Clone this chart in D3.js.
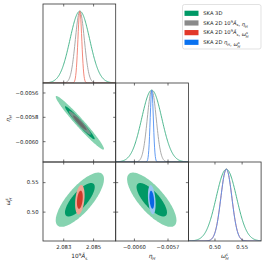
<!DOCTYPE html>
<html>
<head>
<meta charset="utf-8">
<script src="https://cdn.jsdelivr.net/npm/d3@7"></script>
<style>
  body { margin: 0; background: #fff; }
  svg { display: block; font-family: "DejaVu Sans", sans-serif; }
</style>
</head>
<body>
<svg width="266" height="265"></svg>
<script>
// parameters: 10^9 A_s, eta_H, omega_H^s
var paramDomains = [[2.081613, 2.08648], [-0.006167, -0.005518], [0.451, 0.585]];
var paramMeans = [2.08408, -0.005845, 0.521];
var xTicks = [[2.083, 2.085], [-0.0060, -0.0057], [0.50, 0.55]];
var xTickFmt = [".3f", ".4f", ".2f"];
var yTicks = [null, [-0.0056, -0.0058, -0.0060], [0.50, 0.55]];

// series (from Fisher forecasts): which params, sigmas, correlations
var seriesNames = ["SKA 3D", "SKA 2D A eta", "SKA 2D A omega", "SKA 2D eta omega"];
var seriesParams = [[0, 1, 2], [0, 1], [0, 2], [1, 2]];
var seriesSigmas = [[0.00066, 0.00009, 0.0188], [0.0003, 0.00004], [0.00013, 0.0102], [0.000014, 0.0101]];
// correlation for pairs (0,1),(0,2),(1,2) of each series' params
var corr3D = { "0,1": -0.973, "0,2": 0.76, "1,2": -0.76 };
var corr2D = [-0.95, 0.3, -0.3];

var fillOuter = ["#86d3b0", "rgba(150,150,150,0.75)", "#f0a596", "#9ac6f2"];
var fillInner = ["#009966", "rgba(100,100,100,0.85)", "#cf3a2a", "#0a66e6"];
var lineCol = ["#3aaf82", "#a0a0a0", "#f27b6c", "#4f8ef0"];
var legendCol = ["#009966", "#8a8a8a", "#e2382a", "#0a72f0"];

var svg = d3.select("svg");
var L = 43, T = 4, cw = 72.7, ch = 79;

var xs = paramDomains.map(function(d, i) {
  return d3.scaleLinear().domain(d).range([L + i * cw, L + (i + 1) * cw]);
});
var ys = paramDomains.map(function(d, j) {
  return d3.scaleLinear().domain(d).range([T + (j + 1) * ch, T + j * ch]);
});

function sig(s, p) { return seriesSigmas[s][seriesParams[s].indexOf(p)]; }
function rho(s, a, b) {
  if (s === 0) return corr3D[a + "," + b];
  return corr2D[s - 1];
}
function hasPair(s, a, b) { return seriesParams[s].indexOf(a) >= 0 && seriesParams[s].indexOf(b) >= 0; }

function mathText(sel, parts, size) {
  parts.forEach(function(p) {
    var t = sel.append("tspan").text(p[0]);
    if (p[1] === "it") t.attr("font-style", "italic");
    if (p[1] === "sup") t.attr("font-size", size * 0.7).attr("dy", -size * 0.4);
    if (p[1] === "sub") t.attr("font-size", size * 0.7).attr("dy", size * 0.3);
    if (p[1] === "back") t.attr("font-style", "normal").attr("dy", size * 0.1);
    if (p[1] === "stack") t.attr("font-size", size * 0.7).attr("dx", -size * 0.4).attr("dy", size * 0.75);
    if (p[2]) t.attr("font-style", "italic");
  });
}
var lblA = [["10"], ["9", "sup"], ["\u00c3", "it-down"], ["s", "sub"]];
function addA(sel, size) {
  sel.append("tspan").text("10");
  sel.append("tspan").text("9").attr("font-size", size * 0.7).attr("dy", -size * 0.4);
  sel.append("tspan").text("\u00c3").attr("font-style", "italic").attr("dy", size * 0.4);
  sel.append("tspan").text("s").attr("font-size", size * 0.7).attr("dy", size * 0.3);
  sel.append("tspan").text("").attr("dy", -size * 0.3);
}
function addEta(sel, size) {
  sel.append("tspan").text("\u03b7").attr("font-style", "italic");
  sel.append("tspan").text("H").attr("font-style", "italic").attr("font-size", size * 0.7).attr("dy", size * 0.3);
  sel.append("tspan").text("").attr("dy", -size * 0.3);
}
function addOmega(sel, size) {
  sel.append("tspan").text("\u03c9").attr("font-style", "italic");
  sel.append("tspan").text("s").attr("font-style", "italic").attr("font-size", size * 0.7).attr("dy", -size * 0.4);
  sel.append("tspan").text("H").attr("font-style", "italic").attr("font-size", size * 0.7).attr("dx", -size * 0.42).attr("dy", size * 0.75);
  sel.append("tspan").text("").attr("dy", -size * 0.35);
}
var adders = [addA, addEta, addOmega];

var defs = svg.append("defs");
var line = d3.line().curve(d3.curveLinearClosed);
var rOuter = Math.sqrt(-2 * Math.log(0.05)), rInner = Math.sqrt(-2 * Math.log(0.32));

function ellipse(s, a, b, r) {
  var sa = sig(s, a), sb = sig(s, b), p = rho(s, a, b);
  var pts = d3.range(0, 2 * Math.PI, Math.PI / 60).map(function(t) {
    var vx = paramMeans[a] + r * sa * Math.cos(t);
    var vy = paramMeans[b] + r * sb * (p * Math.cos(t) + Math.sqrt(1 - p * p) * Math.sin(t));
    return [xs[a](vx), ys[b](vy)];
  });
  return line(pts);
}

function ticksIn(g, i, j, is1D) {
  var x0 = L + i * cw, x1 = x0 + cw, y0 = T + j * ch, y1 = y0 + ch, tl = 2.5;
  xTicks[i].forEach(function(v) {
    var x = xs[i](v);
    g.append("line").attr("x1", x).attr("x2", x).attr("y1", y1).attr("y2", y1 - tl);
    g.append("line").attr("x1", x).attr("x2", x).attr("y1", y0).attr("y2", y0 + tl);
  });
  if (!is1D) {
    yTicks[j].forEach(function(v) {
      var y = ys[j](v);
      g.append("line").attr("x1", x0).attr("x2", x0 + tl).attr("y1", y).attr("y2", y);
      g.append("line").attr("x1", x1).attr("x2", x1 - tl).attr("y1", y).attr("y2", y);
    });
  }
  g.selectAll("line").attr("stroke", "#333").attr("stroke-width", 0.7);
}

for (var j = 0; j < 3; j++) {
  for (var i = 0; i <= j; i++) {
    var x0 = L + i * cw, y0 = T + j * ch;
    var cid = "clip" + i + j;
    defs.append("clipPath").attr("id", cid).append("rect")
      .attr("x", x0).attr("y", y0).attr("width", cw).attr("height", ch);
    var g = svg.append("g").attr("clip-path", "url(#" + cid + ")");
    if (i === j) {
      var yd = d3.scaleLinear().domain([0, 1.1]).range([y0 + ch, y0]);
      var xsamp = d3.range(201).map(function(k) {
        return paramDomains[i][0] + (paramDomains[i][1] - paramDomains[i][0]) * k / 200;
      });
      seriesNames.forEach(function(n, s) {
        if (seriesParams[s].indexOf(i) < 0) return;
        var sd = sig(s, i);
        var pts = xsamp.map(function(v) {
          var z = (v - paramMeans[i]) / sd;
          return [xs[i](v), yd(Math.exp(-0.5 * z * z))];
        });
        g.append("path").attr("d", d3.line()(pts))
          .attr("fill", "none").attr("stroke", lineCol[s]).attr("stroke-width", 0.9);
      });
    } else {
      seriesNames.forEach(function(n, s) {
        if (!hasPair(s, i, j)) return;
        g.append("path").attr("d", ellipse(s, i, j, rOuter)).attr("fill", fillOuter[s]);
        g.append("path").attr("d", ellipse(s, i, j, rInner)).attr("fill", fillInner[s]);
      });
    }
    var fg = svg.append("g");
    ticksIn(fg, i, j, i === j);
    fg.append("rect").attr("x", x0).attr("y", y0).attr("width", cw).attr("height", ch)
      .attr("fill", "none").attr("stroke", "#333").attr("stroke-width", 0.8);
  }
}

// x tick labels and titles on bottom row
var fs = 5.3;
for (var i = 0; i < 3; i++) {
  xTicks[i].forEach(function(v) {
    svg.append("text").attr("x", xs[i](v)).attr("y", T + 3 * ch + 7.5)
      .attr("text-anchor", "middle").attr("font-size", fs).attr("fill", "#222")
      .text(d3.format(xTickFmt[i])(v).replace("-", "\u2212"));
  });
  var t = svg.append("text").attr("x", L + (i + 0.5) * cw).attr("y", T + 3 * ch + 17)
    .attr("text-anchor", "middle").attr("font-size", 5.8).attr("fill", "#222");
  adders[i](t, 5.8);
}
// y tick labels and titles
var yFmt = [null, ".4f", ".2f"];
for (var j = 1; j < 3; j++) {
  yTicks[j].forEach(function(v) {
    svg.append("text").attr("x", 38.5).attr("y", ys[j](v)).attr("dy", "0.35em")
      .attr("text-anchor", "end").attr("font-size", fs).attr("fill", "#222")
      .text(d3.format(yFmt[j])(v).replace("-", "\u2212"));
  });
  var yc = T + (j + 0.5) * ch - (j === 1 ? 4 : 0);
  var t = svg.append("text").attr("transform", "translate(10," + yc + ") rotate(-90)")
    .attr("text-anchor", "middle").attr("font-size", 5.8).attr("fill", "#222");
  adders[j](t, 5.8);
}

// legend
var lg = svg.append("g");
lg.append("rect").attr("x", 182.5).attr("y", 4.5).attr("width", 78.5).attr("height", 44.5)
  .attr("rx", 2).attr("fill", "#fff").attr("stroke", "#d6d6d6").attr("stroke-width", 0.7);
var legendY = d3.scaleLinear().domain([0, 3]).range([13.3, 42.3]);
seriesNames.forEach(function(n, s) {
  var y = legendY(s);
  lg.append("rect").attr("x", 184.5).attr("y", y - 2.6).attr("width", 14).attr("height", 5.2)
    .attr("fill", legendCol[s]);
  var t = lg.append("text").attr("x", 203.3).attr("y", y).attr("dy", "0.35em")
    .attr("font-size", 5.2).attr("fill", "#222");
  if (s === 0) { t.text("SKA 3D"); return; }
  t.append("tspan").text("SKA 2D ");
  var pr = seriesParams[s];
  adders[pr[0]](t, 5.2);
  t.append("tspan").text(", ");
  adders[pr[1]](t, 5.2);
});
</script>
</body>
</html>
